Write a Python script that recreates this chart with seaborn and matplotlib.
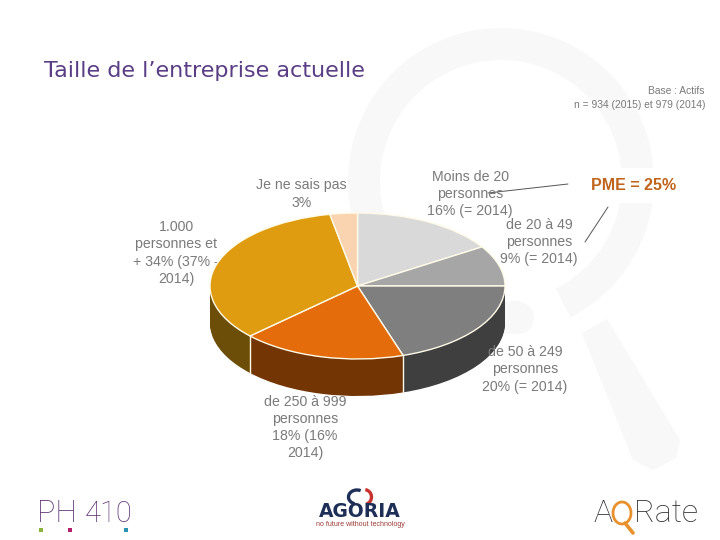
import numpy as np
import matplotlib
matplotlib.use('Agg')
import matplotlib.pyplot as plt
from matplotlib.patches import Wedge, Polygon, Rectangle, Arc, Circle
import seaborn as sns

# --- data ---
categories = ['Moins de 20 personnes', 'de 20 à 49 personnes', 'de 50 à 249 personnes',
              'de 250 à 999 personnes', '1.000 personnes et +', 'Je ne sais pas']
values = [16, 9, 20, 18, 34, 3]
top_colors = ['#d9d9d9', '#a6a6a6', '#7f7f7f', '#e46c0a', '#e09c10', '#fad4b0']
side_colors = ['#6d6d6d', '#535353', '#3f3f3f', '#723503', '#6d4e08', '#7d6a58']
title = 'Taille de l’entreprise actuelle'
base_lines = 'Base : Actifs\nn = 934 (2015) et 979 (2014)'
pme_label = 'PME = 25%'

sns.set_theme(style='white')
plt.rcParams['font.family'] = ['Liberation Sans', 'DejaVu Sans']
TXT = '#7a7a7a'

W, H = 720, 540
fig = plt.figure(figsize=(7.2, 5.4), dpi=100, facecolor='white')


def pixel_axes(z):
    a = fig.add_axes([0, 0, 1, 1], zorder=z)
    a.set_xlim(0, W)
    a.set_ylim(H, 0)
    a.axis('off')
    return a


bg = pixel_axes(0)
fg = pixel_axes(2)

# watermark magnifier
wm = '#f8f8f8'
bg.add_patch(Wedge((501, 181), 153, 81, 423, width=32, fc=wm, ec='none'))
bg.add_patch(Circle((518, 318), 16, fc=wm, ec='none'))
bg.add_patch(Polygon([[582, 333], [607, 319], [680, 440], [676, 458], [653, 470], [633, 460]], fc=wm, ec='none'))
# PME label sits on a white box that hides the ring
bg.add_patch(Rectangle((585, 168), 100, 35, fc='white', ec='none'))

# --- pie, squashed to an ellipse, wall built from stacked pies ---
cx, cy, rx, ry, depth = 357.5, 286, 147.5, 73, 37
ax = fig.add_axes([(cx - rx) / W, 1 - (cy + ry + depth) / H, 2 * rx / W, (2 * ry + depth) / H], zorder=1)
for d in np.arange(depth, 0, -1):
    ax.pie(values, colors=side_colors, startangle=90, counterclock=False,
           center=(0, -d / ry), radius=1, wedgeprops={'linewidth': 0}, normalize=True)
ax.pie(values, colors=top_colors, startangle=90, counterclock=False, center=(0, 0), radius=1,
       wedgeprops={'linewidth': 1, 'edgecolor': '#fffbe8'}, normalize=True)
ax.set_aspect('auto')
ax.set_xlim(-1, 1)
ax.set_ylim(-1 - depth / ry, 1)
ax.patch.set_alpha(0)

# white seams on the wall
cum = np.cumsum(values) / np.sum(values) * 2 * np.pi
for ang in cum[2:4]:
    x, y = np.sin(ang), np.cos(ang)
    ax.plot([x, x], [y, y - depth / ry], color='#fffbe8', lw=1)

# --- text ---
bg.text(204.5, 71, title, fontsize=16, color='#5a3d85', family='DejaVu Sans', ha='center', va='center')
bg.text(705, 98.5, base_lines, fontsize=7.4, color=TXT, ha='right', va='center', linespacing=1.5)

lab = dict(fontsize=10.2, color=TXT, ha='center', va='center', linespacing=1.3)
bg.text(301.5, 194, 'Je ne sais pas\n3%', **lab)
bg.text(176, 253, '1.000\npersonnes et\n+ 34% (37% -\n2014)', **lab)
fg.text(470, 194, 'Moins de 20\npersonnes\n16% (= 2014)', **lab)
fg.text(539, 242, 'de 20 à 49\npersonnes\n9% (= 2014)', **lab)
fg.text(525, 369.5, 'de 50 à 249\npersonnes\n20% (= 2014)', **lab)
fg.text(305, 427.5, 'de 250 à 999\npersonnes\n18% (16%\n2014)', **lab)

fg.text(634, 185, pme_label, fontsize=11.5, fontweight='bold', color='#c0641c', ha='center', va='center')
fg.plot([488, 568], [193, 184], color='#555555', lw=0.7)
fg.plot([608, 585], [207, 242], color='#555555', lw=0.7)

# --- logos ---
thin = dict(family='Roboto', fontweight='light', va='center')
bg.text(37, 513.5, 'PH', fontsize=22, color='#5f3372', ha='left', **thin)
bg.text(85, 513.5, '410', fontsize=21, color='#5f3372', ha='left', **thin)
for x, c in [(40.5, '#8cb43c'), (70, '#b5206e'), (125.5, '#2a93b0')]:
    bg.add_patch(Rectangle((x - 2, 528), 4, 4, fc=c, ec='none'))
bg.add_patch(Arc((357, 497), 17, 14, theta1=110, theta2=300, ec='#1d2f57', lw=2.4))
bg.add_patch(Arc((364, 497), 15, 15, theta1=280, theta2=70, ec='#c8332c', lw=2.4))
bg.text(360, 511.5, 'AGORIA', fontsize=13.5, fontweight='bold', color='#1d2f57', family='DejaVu Sans', ha='center', va='center')
bg.text(360, 525, 'no future without technology', fontsize=5, color='#9b3a35', ha='center', va='center')
bg.text(593, 514, 'A', fontsize=23, color='#303030', ha='left', **thin)
bg.add_patch(Arc((622, 513), 18, 22, ec='#e8912c', lw=2))
bg.plot([625, 633], [523, 533], color='#e8912c', lw=2.6)
bg.text(634, 514, 'Rate', fontsize=23, color='#303030', ha='left', **thin)

plt.savefig('out.png', dpi=100)
